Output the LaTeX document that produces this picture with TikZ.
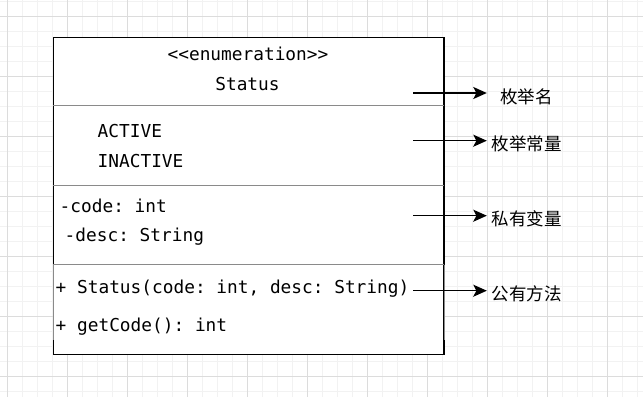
\documentclass[tikz,border=0pt]{standalone}
\usepackage{fontspec}
\setmonofont{DejaVu Sans Mono}
\newfontfamily\cjkfont{Noto Sans CJK SC}
\usetikzlibrary{positioning, arrows.meta}

\definecolor{gridminor}{HTML}{F2F2F2}
\definecolor{gridmajor}{HTML}{DCDCDC}
\definecolor{divgray}{HTML}{8A8A8A}

\begin{document}
\begin{tikzpicture}[x=1pt, y=-1pt,
  member/.style={font=\fontsize{17.8}{20}\selectfont\ttfamily, anchor=base west, inner sep=0pt},
  heading/.style={font=\fontsize{17.8}{20}\selectfont\ttfamily, anchor=base, inner sep=0pt},
  note/.style={font=\fontsize{17.5}{20}\selectfont\cjkfont, minimum width=79pt, inner sep=0pt},
  arr/.style={-{Stealth[length=13.5pt, width=12pt, inset=3pt]}, line width=1.4pt},
  divider/.style={draw=divgray, line width=1pt}
]
\useasboundingbox (0,0) rectangle (643,397);
\fill[white] (0,0) rectangle (643,397);

% ── background grid ──
\foreach \gx in {7,22,...,637} \draw[gridminor, line width=1pt] (\gx,0) -- (\gx,397);
\foreach \gy in {1,16,...,391} \draw[gridminor, line width=1pt] (0,\gy) -- (643,\gy);
\foreach \gx in {7,67,...,637} \draw[gridmajor, line width=1pt] (\gx,0) -- (\gx,397);
\foreach \gy in {16,76,...,391} \draw[gridmajor, line width=1pt] (0,\gy) -- (643,\gy);

% ── class box ──
\draw[fill=white, line width=1.5pt] (53.3,37.3) rectangle (444,354.5);
\draw[divider] (53.3,105) -- (444,105);
\draw[divider] (53.3,185.5) -- (444,185.5);
\draw[divider] (53.3,264.5) -- (444,264.5);
\draw[divider] (53.3,264.5) -- (53.3,340) (444,264.5) -- (444,340);

% ── name compartment ──
\node[heading] (stereo) at (248,60.7) {<{}<enumeration>{}>};
\node[heading] (classname) at (247.5,90) {Status};

% ── constants ──
\node[member] (active) at (97.5,137.7) {ACTIVE};
\node[member] (inactive) at (97.5,167.3) {INACTIVE};

% ── private fields ──
\node[member] (code) at (59.5,212.7) {-code: int};
\node[member] (desc) at (64.5,241) {-desc: String};

% ── public methods ──
\node[member] (ctor) at (55.5,293.5) {+ Status(code: int, desc: String)};
\node[member] (getter) at (55.5,331.7) {+ getCode(): int};

% ── annotations ──
\coordinate (pname) at (413,93);
\coordinate (pconst) at (413,140.7);
\coordinate (pfield) at (413,215.7);
\coordinate (pmethod) at (413,290.7);

\node[note] (lname) at (526.5,96.7) {枚举名};
\node[note] (lconst) at (526.5,144) {枚举常量};
\node[note] (lfield) at (526.5,219) {私有变量};
\node[note] (lmethod) at (526.5,293.5) {公有方法};

\draw[arr] (pname) -- (pname -| lname.west);
\draw[arr] (pconst) -- (pconst -| lconst.west);
\draw[arr] (pfield) -- (pfield -| lfield.west);
\draw[arr] (pmethod) -- (pmethod -| lmethod.west);

\end{tikzpicture}
\end{document}
